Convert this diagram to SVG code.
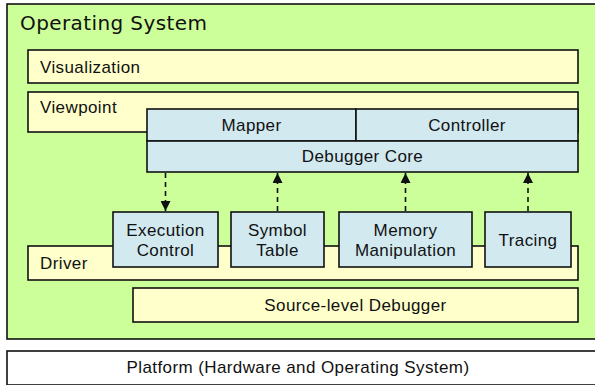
<svg xmlns="http://www.w3.org/2000/svg" width="595" height="385" viewBox="0 0 595 385">
<defs>
<style>
.box{stroke:#111;stroke-width:1.6}
.os{fill:#CCFF99}
.yl{fill:#FFFFCC}
.bl{fill:#D2E9F0}
.wh{fill:#FFFFFF}
.t{font-family:"Liberation Sans",Arial,sans-serif;font-size:17px;letter-spacing:0.4px;fill:#111}
.c{text-anchor:middle}
.big{font-family:"DejaVu Sans",Verdana,sans-serif;font-size:20px;letter-spacing:0.4px;fill:#111}
.dash{stroke:#111;stroke-width:1.6;stroke-dasharray:5,4;fill:none}
</style>
<marker id="ah" viewBox="0 0 10 10" refX="10" refY="5" markerWidth="10" markerHeight="10" markerUnits="userSpaceOnUse" orient="auto">
<path d="M0,0 L10,5 L0,10 z" fill="#111"/>
</marker>
</defs>
<g id="platform">
<rect class="box wh" x="7" y="351" width="600" height="34"/>
<text class="t c" x="298" y="373">Platform (Hardware and Operating System)</text>
</g>
<g id="os">
<rect class="box os" x="7" y="4" width="600" height="335"/>
<text class="big" x="20" y="30">Operating System</text>
</g>
<g id="visualization">
<rect class="box yl" x="28" y="50" width="550" height="33"/>
<text class="t" x="40" y="73">Visualization</text>
</g>
<g id="viewpoint">
<rect class="box yl" x="28" y="92" width="550" height="40"/>
<text class="t" x="40" y="113">Viewpoint</text>
</g>
<g id="driver">
<rect class="box yl" x="28" y="246" width="550" height="34"/>
<text class="t" x="40" y="269">Driver</text>
</g>
<g id="source-level-debugger">
<rect class="box yl" x="133" y="288" width="445" height="34"/>
<text class="t c" x="355.5" y="311">Source-level Debugger</text>
</g>
<g id="mapper">
<rect class="box bl" x="147" y="109" width="209" height="32"/>
<text class="t c" x="251.5" y="131">Mapper</text>
</g>
<g id="controller">
<rect class="box bl" x="356" y="109" width="222" height="32"/>
<text class="t c" x="467" y="131">Controller</text>
</g>
<g id="debugger-core">
<rect class="box bl" x="147" y="141" width="431" height="31"/>
<text class="t c" x="362.5" y="162">Debugger Core</text>
</g>
<g id="execution-control">
<rect class="box bl" x="113" y="212" width="105" height="55"/>
<text class="t c" x="165.5" y="236">Execution</text>
<text class="t c" x="165.5" y="256">Control</text>
</g>
<g id="symbol-table">
<rect class="box bl" x="231" y="212" width="93" height="55"/>
<text class="t c" x="277.5" y="236">Symbol</text>
<text class="t c" x="277.5" y="256">Table</text>
</g>
<g id="memory-manipulation">
<rect class="box bl" x="339" y="212" width="133" height="55"/>
<text class="t c" x="405.5" y="236">Memory</text>
<text class="t c" x="405.5" y="256">Manipulation</text>
</g>
<g id="tracing">
<rect class="box bl" x="485" y="212" width="86" height="55"/>
<text class="t c" x="528" y="246">Tracing</text>
</g>
<g id="connectors">
<line class="dash" x1="165.5" y1="173" x2="165.5" y2="211" marker-end="url(#ah)"/>
<line class="dash" x1="277.5" y1="211" x2="277.5" y2="173" marker-end="url(#ah)"/>
<line class="dash" x1="405.5" y1="211" x2="405.5" y2="173" marker-end="url(#ah)"/>
<line class="dash" x1="528" y1="211" x2="528" y2="173" marker-end="url(#ah)"/>
</g>
</svg>
